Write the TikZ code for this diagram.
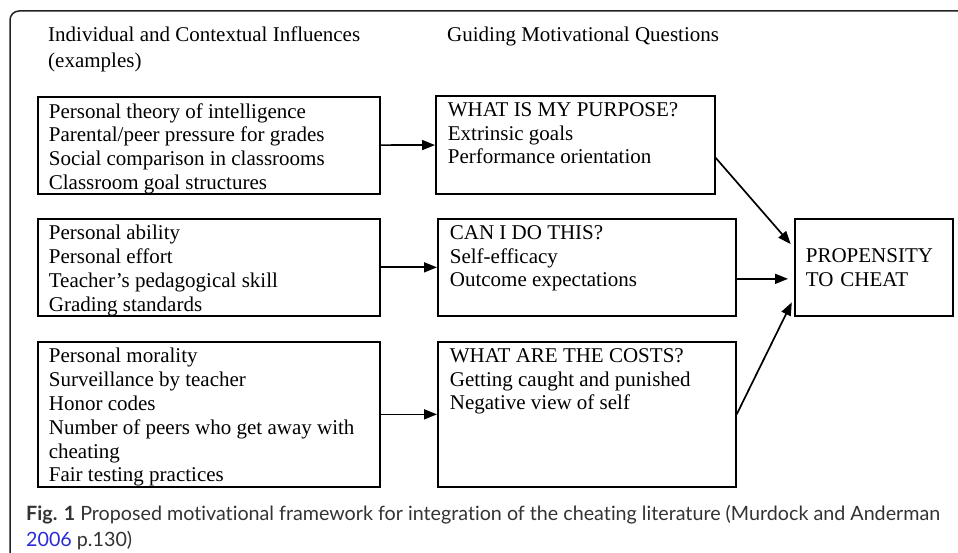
\documentclass[tikz,border=0pt]{standalone}
\usepackage{fontspec}
\setmainfont{Liberation Serif}
\newfontfamily\capfont[Ligatures=NoCommon]{Lato}
\usepackage{tikz}
\usetikzlibrary{arrows.meta}
\definecolor{capgray}{HTML}{333333}
\definecolor{linkblue}{HTML}{2B2BD9}
\definecolor{framegray}{HTML}{222222}
\newcommand{\boxlines}[3]{\parbox[c][#1][t]{#2}{#3}}

\begin{document}
\begin{tikzpicture}[x=1pt, y=-1pt,
		box/.style={draw, line width=1.7pt, anchor=north west, inner xsep=11pt, inner ysep=6.5pt},
		link/.style={-{Triangle[length=13pt,width=10pt]}, line width=1.7pt}]
		\useasboundingbox (0, 0) rectangle (958, 553);
		\draw[framegray, line width=1.5pt, rounded corners=9pt] (10, 570) -- (10, 11) -- (975, 11);

		\node[anchor=north west, inner sep=0pt, align=left, font=\fontsize{21}{26}\selectfont] (infHead) at (48, 27) {Individual and Contextual Influences\\(examples)};
		\node[anchor=base west, inner sep=0pt, font=\fontsize{21}{24}\selectfont] (qHead) at (447, 41.5) {Guiding Motivational Questions};

		\begin{scope}[font=\fontsize{21}{23.8}\selectfont]
		% influences
		\node[box] (infPurpose) at (37, 96) {\boxlines{84pt}{320pt}{Personal theory of intelligence\\Parental/peer pressure for grades\\Social comparison in classrooms\\Classroom goal structures}};
		\node[box] (infAble) at (37, 218) {\boxlines{84pt}{320pt}{Personal ability\\Personal effort\\Teacher’s pedagogical skill\\Grading standards}};
		\node[box] (infCost) at (37, 341) {\boxlines{132pt}{320pt}{Personal morality\\Surveillance by teacher\\Honor codes\\Number of peers who get away with\\cheating\\Fair testing practices}};

		% questions
		\node[box, inner xsep=12pt] (qPurpose) at (435, 95) {\boxlines{85pt}{255pt}{WHAT IS MY PURPOSE?\\Extrinsic goals\\Performance orientation}};
		\node[box, inner xsep=12pt] (qAble) at (437, 218) {\boxlines{84pt}{274pt}{CAN I DO THIS?\\Self-efficacy\\Outcome expectations}};
		\node[box, inner xsep=12pt] (qCost) at (437, 341) {\boxlines{132pt}{274pt}{WHAT ARE THE COSTS?\\Getting caught and punished\\Negative view of self}};

		\node[box, align=left, text width=136pt, minimum height=97pt, inner ysep=0pt] (cheat) at (794, 218) {PROPENSITY\\TO CHEAT};
		\end{scope}

		\draw[link] (infPurpose) -- (qPurpose);
		\draw[link] (infAble) -- (qAble);
		\draw[link] (infCost) -- (qCost);

		\draw[link, shorten >=5pt] ([yshift=-13pt]qPurpose.east) -- ([yshift=19.5pt]cheat.west);
		\draw[link, shorten >=6pt] ([yshift=-11.5pt]qAble.east) -- ([yshift=-11.5pt]cheat.west);
		\draw[link, shorten >=5pt] (qCost.east) -- ([yshift=-30.5pt]cheat.west);

		\node[anchor=north west, inner sep=0pt, align=left, text=capgray, font=\capfont\fontsize{19.7}{26}\selectfont] (caption) at (26, 505.5) {\textbf{Fig. 1} Proposed motivational framework for integration of the cheating literature (Murdock and Anderman\\\textcolor{linkblue}{2006} p.130)};
	\end{tikzpicture}
\end{document}
